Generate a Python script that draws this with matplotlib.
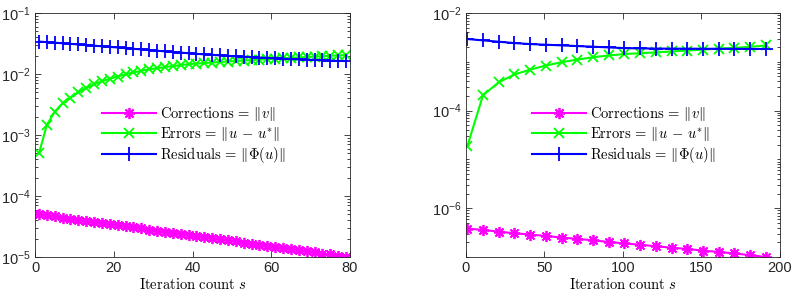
import matplotlib
matplotlib.use("Agg")
import matplotlib.pyplot as plt
from matplotlib.ticker import LogLocator, NullFormatter, NullLocator

plt.rcParams['font.family'] = ['Liberation Sans', 'DejaVu Sans']
plt.rcParams['mathtext.fontset'] = 'cm'

# left panel: markers every 2 iterations
s_left = list(range(1, 80, 2))
corr_left = [5.01e-5, 4.81e-5, 4.62e-5, 4.43e-5, 4.25e-5, 4.08e-5, 3.92e-5, 3.76e-5,
             3.61e-5, 3.46e-5, 3.32e-5, 3.19e-5, 3.06e-5, 2.94e-5, 2.82e-5, 2.71e-5,
             2.60e-5, 2.49e-5, 2.39e-5, 2.30e-5, 2.20e-5, 2.12e-5, 2.03e-5, 1.95e-5,
             1.87e-5, 1.80e-5, 1.72e-5, 1.65e-5, 1.59e-5, 1.52e-5, 1.46e-5, 1.40e-5,
             1.35e-5, 1.29e-5, 1.24e-5, 1.19e-5, 1.14e-5, 1.10e-5, 1.05e-5, 1.01e-5]
err_left = [5.0e-4, 1.46e-3, 2.41e-3, 3.31e-3, 4.09e-3, 5.0e-3, 5.9e-3, 6.8e-3,
            7.6e-3, 8.4e-3, 9.1e-3, 9.9e-3, 1.06e-2, 1.13e-2, 1.19e-2, 1.25e-2,
            1.30e-2, 1.35e-2, 1.40e-2, 1.45e-2, 1.48e-2, 1.51e-2, 1.54e-2, 1.57e-2,
            1.60e-2, 1.63e-2, 1.66e-2, 1.69e-2, 1.72e-2, 1.75e-2, 1.78e-2, 1.81e-2,
            1.84e-2, 1.87e-2, 1.90e-2, 1.93e-2, 1.96e-2, 1.99e-2, 2.02e-2, 2.05e-2]
res_left = [3.40e-2, 3.33e-2, 3.26e-2, 3.19e-2, 3.12e-2, 3.05e-2, 2.98e-2, 2.91e-2,
            2.85e-2, 2.78e-2, 2.72e-2, 2.65e-2, 2.59e-2, 2.53e-2, 2.47e-2, 2.41e-2,
            2.35e-2, 2.29e-2, 2.24e-2, 2.19e-2, 2.14e-2, 2.10e-2, 2.06e-2, 2.02e-2,
            1.98e-2, 1.95e-2, 1.92e-2, 1.89e-2, 1.86e-2, 1.83e-2, 1.80e-2, 1.78e-2,
            1.76e-2, 1.74e-2, 1.72e-2, 1.70e-2, 1.68e-2, 1.66e-2, 1.64e-2, 1.63e-2]

# right panel: markers every 10 iterations
s_right = list(range(1, 200, 10))
corr_right = [3.8e-7, 3.6e-7, 3.3e-7, 3.07e-7, 2.88e-7, 2.7e-7, 2.5e-7, 2.35e-7,
              2.2e-7, 2.03e-7, 1.9e-7, 1.78e-7, 1.66e-7, 1.55e-7, 1.46e-7, 1.35e-7,
              1.27e-7, 1.18e-7, 1.09e-7, 1.0e-7]
err_right = [1.86e-5, 2.06e-4, 3.8e-4, 5.5e-4, 6.9e-4, 8.4e-4, 9.8e-4, 1.11e-3,
             1.24e-3, 1.35e-3, 1.44e-3, 1.50e-3, 1.56e-3, 1.63e-3, 1.70e-3, 1.78e-3,
             1.86e-3, 1.93e-3, 2.03e-3, 2.16e-3]
res_right = [2.93e-3, 2.75e-3, 2.58e-3, 2.42e-3, 2.31e-3, 2.24e-3, 2.17e-3, 2.10e-3,
             2.04e-3, 1.97e-3, 1.91e-3, 1.88e-3, 1.87e-3, 1.86e-3, 1.86e-3, 1.85e-3,
             1.85e-3, 1.84e-3, 1.84e-3, 1.83e-3]

labels = [r'$\mathrm{Corrections}\,=\,\|v\|$',
          r'$\mathrm{Errors}\,=\,\|u\,-\,u^{*}\|$',
          r'$\mathrm{Residuals}\,=\,\|\Phi(u)\|$']
dark = '#262626'


def panel(ax, s, corr, err, res, xmax, ylim, yticks, xticks):
    ax.semilogy(s, corr, color='#ff00ff', lw=1.5, marker=(8, 2, 0), ms=8, mew=1.3, label=labels[0])
    ax.semilogy(s, err, color='#00ff00', lw=1.5, marker='x', ms=7, mew=1.3, label=labels[1])
    ax.semilogy(s, res, color='#0000ff', lw=1.5, marker='+', ms=10, mew=1.3, label=labels[2])
    ax.set_xlim(0, xmax)
    ax.set_ylim(*ylim)
    ax.set_xticks(xticks)
    ax.set_yticks(yticks)
    ax.yaxis.set_minor_locator(LogLocator(base=10, subs=range(1, 10), numticks=50))
    ax.yaxis.set_minor_formatter(NullFormatter())
    ax.xaxis.set_minor_locator(NullLocator())
    ax.tick_params(which='both', direction='in', top=True, right=True, colors=dark,
                   labelsize=10.5, width=0.6)
    ax.tick_params(which='major', length=4, pad=3)
    ax.tick_params(which='minor', length=2)
    for sp in ax.spines.values():
        sp.set_color(dark)
        sp.set_linewidth(0.6)
    ax.set_xlabel(r'$\mathrm{Iteration\ count}\ s$', fontsize=10.5, labelpad=1.5)


fig = plt.figure(figsize=(7.98, 2.97), dpi=100)
ax1 = fig.add_axes([0.0439, 0.1347, 0.3947, 0.8215])
ax2 = fig.add_axes([0.5836, 0.1347, 0.3939, 0.8215])

panel(ax1, s_left, corr_left, err_left, res_left, 80, (1e-5, 1e-1),
      [1e-5, 1e-4, 1e-3, 1e-2, 1e-1], [0, 20, 40, 60, 80])
panel(ax2, s_right, corr_right, err_right, res_right, 200, (1e-7, 1e-2),
      [1e-6, 1e-4, 1e-2], [0, 50, 100, 150, 200])

for ax, x0 in [(ax1, 0.213), (ax2, 0.21)]:
    ax.legend(loc='center left', bbox_to_anchor=(x0, 0.5), frameon=False, fontsize=10.5,
              borderpad=0, borderaxespad=0, handlelength=3.7, handletextpad=0.3,
              labelspacing=0.12)

fig.savefig('out.png', dpi=100)
